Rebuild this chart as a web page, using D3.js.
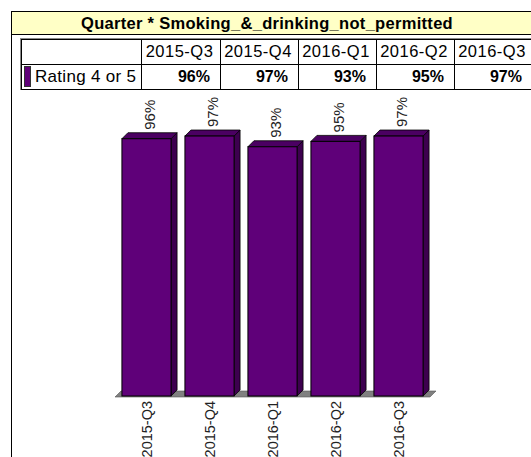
<!DOCTYPE html>
<html>
<head>
<meta charset="utf-8">
<script src="https://cdn.jsdelivr.net/npm/d3@7"></script>
<style>
  body { margin: 0; background: #fff; }
  svg { display: block; font-family: "Liberation Sans", Arial, sans-serif; }
</style>
</head>
<body>
<div id="chart"></div>
<script>
const title = 'Quarter * Smoking_&_drinking_not_permitted';
const quarters = ['2015-Q3', '2015-Q4', '2016-Q1', '2016-Q2', '2016-Q3'];
const seriesName = 'Rating 4 or 5';
const ratings = [96, 97, 93, 95, 97];

const W = 531, H = 457;
const purple = '#5f0079', purpleSide = '#3d004f', purpleTop = '#4b0062';
const depth = 6;

const svg = d3.select('#chart').append('svg')
  .attr('width', W).attr('height', H);

// outer frame + title bar
svg.append('line').attr('x1', 11.5).attr('x2', 11.5).attr('y1', 11).attr('y2', H)
  .attr('stroke', '#000');
svg.append('rect').attr('x', 11.5).attr('y', 11.5).attr('width', W).attr('height', 23)
  .attr('fill', '#ffffc6').attr('stroke', '#000');
svg.append('text').attr('x', 267).attr('y', 29)
  .attr('text-anchor', 'middle').attr('font-size', 16.5).attr('font-weight', 'bold')
  .attr('letter-spacing', 0.3).text(title);

// data table
const colX = [21, 141, 220, 298, 376, 454, 532];
const rowY = [39, 64, 89];
const tbl = svg.append('g');
tbl.append('rect').attr('x', 20.5).attr('y', 38.5).attr('width', W).attr('height', 51)
  .attr('fill', 'none').attr('stroke', '#888');
rowY.forEach(y => tbl.append('line').attr('x1', 21).attr('x2', W)
  .attr('y1', y + 0.5).attr('y2', y + 0.5).attr('stroke', '#000'));
colX.forEach(x => tbl.append('line').attr('x1', x + 0.5).attr('x2', x + 0.5)
  .attr('y1', 39).attr('y2', 89).attr('stroke', '#000'));

quarters.forEach((q, i) => {
  tbl.append('text').attr('x', (colX[i + 1] + colX[i + 2]) / 2 - 1).attr('y', 57)
    .attr('text-anchor', 'middle').attr('font-size', 16.5).attr('letter-spacing', 0.5).text(q);
  tbl.append('text').attr('x', colX[i + 2] - 10).attr('y', 82)
    .attr('text-anchor', 'end').attr('font-size', 16).attr('font-weight', 'bold')
    .text(ratings[i] + '%');
});
tbl.append('rect').attr('x', 24.5).attr('y', 66.5).attr('width', 6).attr('height', 20)
  .attr('fill', purple).attr('stroke', '#333');
tbl.append('text').attr('x', 35).attr('y', 82).attr('font-size', 17)
  .attr('letter-spacing', 0.3).text(seriesName);

// bars
const x = d3.scaleBand().domain(quarters).range([115, 430]).paddingInner(0.22).paddingOuter(0.11);
const y = d3.scaleLinear().domain([0, 100]).range([396, 128]);

const g = svg.append('g');
// floor
const fx0 = 115, fx1 = 430, fy = y(0);
g.append('path')
  .attr('d', `M${fx0},${fy + 1}L${fx0 + depth},${fy - depth + 1}L${fx1 + depth},${fy - depth + 1}L${fx1},${fy + 1}Z`)
  .attr('fill', '#808080').attr('stroke', '#555').attr('stroke-width', 0.6);

quarters.forEach((q, i) => {
  const x0 = x(q), bw = x.bandwidth(), yt = y(ratings[i]), yb = y(0);
  // side
  g.append('path')
    .attr('d', `M${x0 + bw},${yt}L${x0 + bw + depth},${yt - depth}L${x0 + bw + depth},${yb - depth}L${x0 + bw},${yb}Z`)
    .attr('fill', purpleSide).attr('stroke', '#000').attr('stroke-width', 0.8);
  // top
  g.append('path')
    .attr('d', `M${x0},${yt}L${x0 + depth},${yt - depth}L${x0 + bw + depth},${yt - depth}L${x0 + bw},${yt}Z`)
    .attr('fill', purpleTop).attr('stroke', '#000').attr('stroke-width', 0.8);
  // front
  g.append('rect').attr('x', x0).attr('y', yt).attr('width', bw).attr('height', yb - yt)
    .attr('fill', purple).attr('stroke', '#000').attr('stroke-width', 1);
  // value label
  const cx = x0 + (bw + depth) / 2 + 5;
  g.append('text').attr('transform', `translate(${cx},${yt - depth - 3}) rotate(-90)`)
    .attr('font-size', 15).attr('fill', '#222').text(ratings[i] + '%');
  // category label
  g.append('text').attr('transform', `translate(${x0 + bw / 2 + 5},${yb + 5}) rotate(-90)`)
    .attr('text-anchor', 'end').attr('font-size', 14.5).attr('fill', '#222').text(q);
});
</script>
</body>
</html>
